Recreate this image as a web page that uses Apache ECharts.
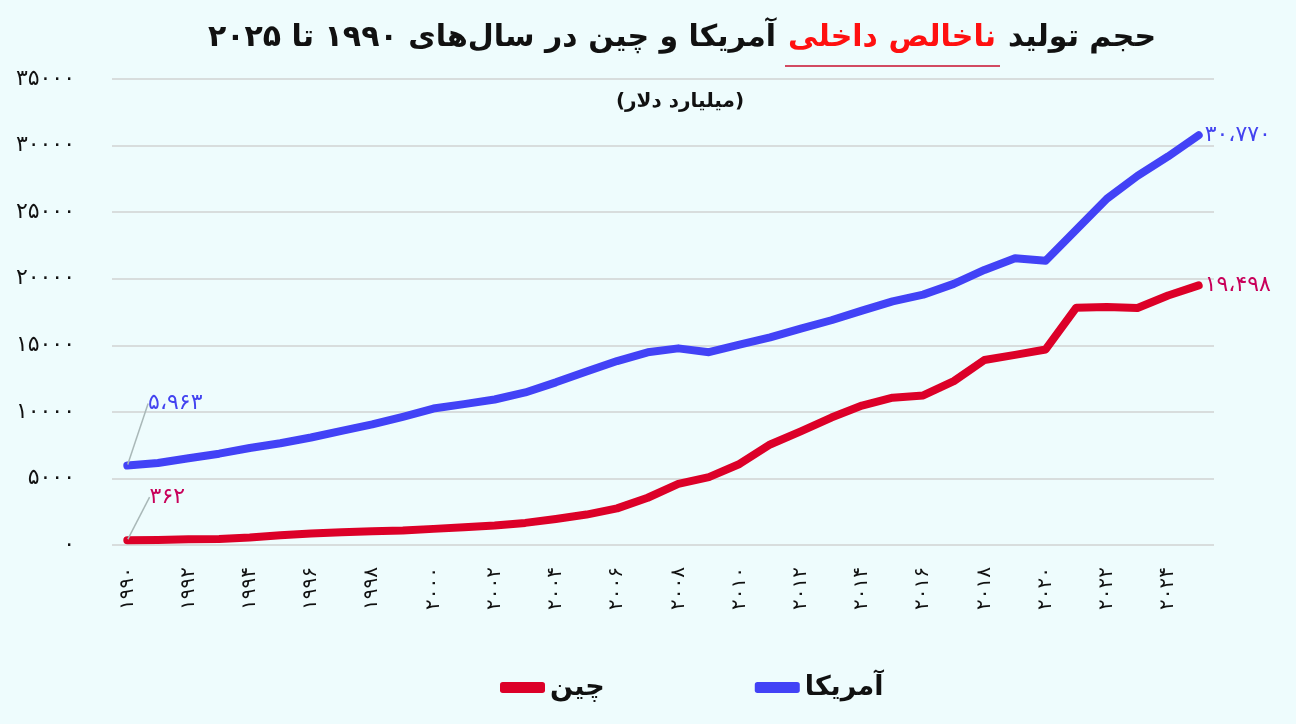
<!DOCTYPE html>
<html>
<head>
<meta charset="utf-8">
<script src="https://cdn.jsdelivr.net/npm/echarts@6/dist/echarts.min.js"></script>
<style>
html,body{margin:0;padding:0;background:#eefcfd;}
#c{width:1296px;height:724px;}
</style>
</head>
<body>
<div id="c"></div>
<script>
const years = ['1990','1991','1992','1993','1994','1995','1996','1997','1998','1999',
  '2000','2001','2002','2003','2004','2005','2006','2007','2008','2009',
  '2010','2011','2012','2013','2014','2015','2016','2017','2018','2019',
  '2020','2021','2022','2023','2024','2025'];
const usGDP = [5963,6158,6520,6859,7287,7640,8073,8578,9063,9631,
  10251,10582,10929,11456,12217,13039,13816,14474,14770,14478,
  15049,15600,16254,16881,17608,18295,18805,19612,20657,21540,
  21354,23681,26007,27721,29185,30770];
const chinaGDP = [362,383,427,445,564,735,864,962,1029,1094,
  1211,1339,1471,1660,1955,2286,2752,3550,4594,5102,
  6087,7552,8532,9570,10476,11062,11233,12310,13895,14280,
  14688,17820,17882,17795,18744,19498];
const seriesNames = ['آمریکا', 'چین'];
const titleParts = ['آمریکا و چین در سال‌های ۱۹۹۰ تا ۲۰۲۵', 'ناخالص داخلی', 'حجم تولید'];
const subtitleText = '(میلیارد دلار)';

const FONT = 'DejaVu Sans';
const BLUE = '#4242f6';
const RED = '#dc0028';
const BLUE_LBL = '#4343f0';
const RED_LBL = '#c8005a';

function toFa(s){ return String(s).replace(/\d/g, d => '۰۱۲۳۴۵۶۷۸۹'[d]); }
function faNum(n){ return toFa(Number(n).toLocaleString('en-US')).replace(/,/g, '،'); }

function buildData(arr, color){
  return arr.map((v, i) => i === 0 ? {
    value: v,
    symbol: 'circle', symbolSize: 2,
    label: {show: true, position: 'top', formatter: faNum(v), color: color,
      fontFamily: FONT, fontSize: 22},
    labelLine: {show: true, lineStyle: {color: '#a9b8b8', width: 1.5}}
  } : {value: v, symbol: 'none'});
}

const chart = echarts.init(document.getElementById('c'));
chart.setOption({
  backgroundColor: '#eefcfd',
  animation: false,
  textStyle: {fontFamily: FONT},
  graphic: [
    {type: 'text', x: 682, y: 38,
      style: {
        text: '{a|' + titleParts[0] + '}{r|' + titleParts[1] + '}{a|' + titleParts[2] + '}',
        align: 'center', verticalAlign: 'middle',
        rich: {
          a: {fontFamily: FONT, fontWeight: 'bold', fontSize: 30, fill: '#111', padding: [0, 6, 0, 6]},
          r: {fontFamily: FONT, fontWeight: 'bold', fontSize: 30, fill: '#ff1010', padding: [0, 6, 0, 6]}
        }
      }},
    {type: 'line', shape: {x1: 785, y1: 66, x2: 1000, y2: 66},
      style: {stroke: '#c8102e', lineWidth: 1.5}},
    {type: 'text', x: 680, y: 102,
      style: {text: subtitleText, align: 'center', verticalAlign: 'middle',
        fontFamily: FONT, fontWeight: 'bold', fontSize: 20, fill: '#111'}}
  ],
  legend: {
    data: [seriesNames[1], seriesNames[0]],
    left: 495, bottom: 18,
    icon: 'roundRect', itemWidth: 45, itemHeight: 11, itemGap: 150,
    textStyle: {fontFamily: FONT, fontWeight: 'bold', fontSize: 27, color: '#111'}
  },
  grid: {left: 112, right: 82, top: 79, bottom: 179, containLabel: false},
  xAxis: {
    type: 'category', data: years, boundaryGap: true,
    axisLine: {show: false}, axisTick: {show: false},
    axisLabel: {interval: 1, rotate: 90, margin: 22, fontFamily: FONT, fontSize: 20,
      color: '#111', formatter: v => toFa(v)}
  },
  yAxis: {
    type: 'value', min: 0, max: 35000, interval: 5000,
    axisLine: {show: false}, axisTick: {show: false},
    axisLabel: {margin: 37, fontFamily: FONT, fontSize: 22, color: '#111', formatter: v => toFa(v)},
    splitLine: {lineStyle: {color: '#d8dddd', width: 2}}
  },
  series: [
    {
      name: seriesNames[0], type: 'line', data: buildData(usGDP, BLUE_LBL),
      symbol: 'none', showSymbol: true, showAllSymbol: true, smooth: false,
      lineStyle: {color: BLUE, width: 8, cap: 'round', join: 'round'},
      itemStyle: {color: BLUE},
      label: {show: false},
      labelLayout: p => p.dataIndex === 0 ? {dx: 48, dy: -45} : null,
      endLabel: {show: true, formatter: () => faNum(usGDP[usGDP.length - 1]),
        color: BLUE_LBL, fontFamily: FONT, fontSize: 22, distance: 6}
    },
    {
      name: seriesNames[1], type: 'line', data: buildData(chinaGDP, RED_LBL),
      symbol: 'none', showSymbol: true, showAllSymbol: true, smooth: false,
      lineStyle: {color: RED, width: 8, cap: 'round', join: 'round'},
      itemStyle: {color: RED},
      label: {show: false},
      labelLayout: p => p.dataIndex === 0 ? {dx: 40, dy: -26} : null,
      endLabel: {show: true, formatter: () => faNum(chinaGDP[chinaGDP.length - 1]),
        color: RED_LBL, fontFamily: FONT, fontSize: 22, distance: 6}
    }
  ]
});
</script>
</body>
</html>
